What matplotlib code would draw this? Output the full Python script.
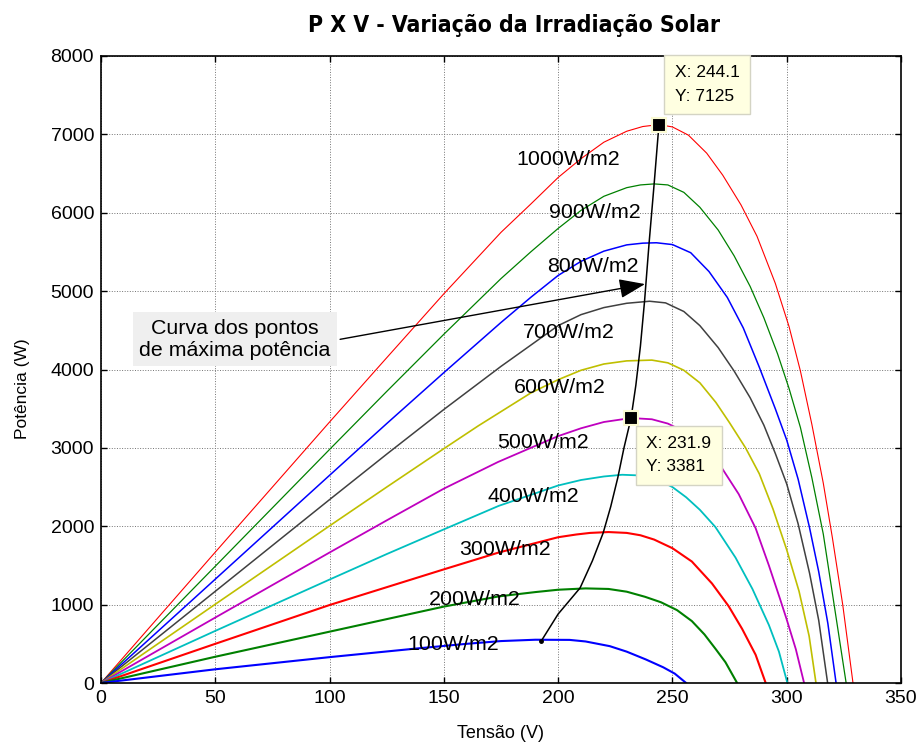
import matplotlib
matplotlib.use('Agg')
import matplotlib.pyplot as plt

plt.rcParams['font.family'] = ['Liberation Sans', 'DejaVu Sans']

# P x V curves of the array for each irradiance level (V in volts, P in watts)
irradiance = [1000, 900, 800, 700, 600, 500, 400, 300, 200, 100]

v1000 = [0, 50, 100, 125, 150, 175, 188, 200, 210, 220, 230, 237, 244.1, 250, 257, 265, 272, 280,
         287, 295, 301, 306, 311, 316, 320, 324.5, 329]
p1000 = [0, 1670, 3330, 4150, 4966, 5750, 6110, 6450, 6690, 6900, 7040, 7100, 7125, 7095, 6990,
         6760, 6480, 6100, 5700, 5100, 4550, 3980, 3300, 2550, 1850, 1000, 0]

v900 = [0, 50, 100, 125, 150, 175, 188, 200, 210, 220, 230, 236, 242, 248, 255, 262, 270, 277,
        284, 290, 296, 301, 306, 311, 316, 321, 326]
p900 = [0, 1490, 2980, 3720, 4450, 5160, 5500, 5800, 6030, 6210, 6320, 6355, 6368, 6355, 6260,
        6070, 5780, 5450, 5060, 4660, 4200, 3760, 3260, 2620, 1900, 950, 0]

v800 = [0, 50, 100, 125, 150, 175, 188, 200, 210, 220, 230, 237, 243, 250, 258, 266, 274, 281,
        288, 295, 300, 305, 310, 314, 318, 321.6]
p800 = [0, 1325, 2650, 3310, 3960, 4600, 4920, 5200, 5380, 5510, 5590, 5612, 5617, 5594, 5490,
        5250, 4920, 4530, 4030, 3500, 3100, 2600, 1980, 1420, 760, 0]

v700 = [0, 50, 100, 125, 150, 175, 188, 200, 210, 220, 230, 240, 247, 255, 262, 270, 277, 284,
        290, 295, 300, 305, 310, 314, 317.9]
p700 = [0, 1170, 2340, 2920, 3490, 4040, 4310, 4560, 4700, 4790, 4845, 4871, 4850, 4740, 4560,
        4280, 3980, 3640, 3290, 2930, 2540, 2030, 1400, 800, 0]

v600 = [0, 50, 100, 125, 150, 165, 188, 200, 210, 220, 230, 241, 248, 255, 262, 269, 275, 282,
        288, 294, 300, 305.4, 309.8, 312.8]
p600 = [0, 1005, 2005, 2500, 2990, 3280, 3700, 3870, 3990, 4070, 4110, 4120, 4085, 3990, 3830,
        3580, 3320, 3000, 2670, 2220, 1700, 1170, 600, 0]

v500 = [0, 50, 100, 125, 150, 173.7, 188, 200, 210, 220, 231.9, 241, 248, 255, 262, 271.7, 279,
        286.4, 292.2, 297, 300, 304, 307.6]
p500 = [0, 835, 1665, 2075, 2480, 2820, 3000, 3150, 3250, 3330, 3381, 3365, 3310, 3210, 3040,
        2740, 2410, 1975, 1500, 1080, 810, 430, 0]

v400 = [0, 50, 100, 125, 150, 174, 188, 200, 210, 220, 228, 236, 244, 250, 256, 262, 268.8,
        277.6, 285, 292.2, 296.6, 300.3]
p400 = [0, 665, 1320, 1645, 1960, 2260, 2400, 2520, 2590, 2635, 2657, 2648, 2590, 2500, 2370,
        2210, 1990, 1600, 1200, 740, 400, 0]

v300 = [0, 50, 100, 150, 174, 188, 200, 208, 214, 222, 230, 236, 242, 250, 258.5, 267.3, 274.6,
        280.5, 286.4, 290.8]
p300 = [0, 500, 995, 1450, 1665, 1770, 1860, 1895, 1915, 1926, 1915, 1885, 1830, 1720, 1550,
        1270, 980, 690, 360, 0]

v200 = [0, 50, 100, 150, 174, 190, 200, 212, 222, 230, 238, 245, 252, 258.5, 264, 269, 273.2, 278.3]
p200 = [0, 335, 655, 975, 1105, 1160, 1190, 1207, 1200, 1165, 1100, 1030, 930, 790, 620, 430, 265, 0]

v100 = [0, 50, 100, 138, 160, 175, 190, 205, 212, 222.6, 230, 238.4, 246, 251, 256]
p100 = [0, 175, 330, 440, 500, 535, 552, 550, 530, 470, 400, 300, 200, 120, 0]

# locus of maximum power points
v_mpp = [192.7, 200, 209.6, 215, 219.7, 223, 226.1, 228.8, 231.9, 234, 236, 237.8, 239.8, 242, 244.1]
p_mpp = [540, 880, 1213, 1560, 1915, 2250, 2620, 3000, 3381, 3800, 4300, 4871, 5617, 6368, 7125]

# data tips
tip_v = [244.1, 231.9]
tip_p = [7125, 3381]

curves = [(v1000, p1000), (v900, p900), (v800, p800), (v700, p700), (v600, p600),
          (v500, p500), (v400, p400), (v300, p300), (v200, p200), (v100, p100)]
colors = ['#ff0000', '#008000', '#0000ff', '#404040', '#bfbf00',
          '#bf00bf', '#00bfbf', '#ff0000', '#008000', '#0000ff']
widths = [0.8, 0.9, 1.1, 1.1, 1.2, 1.3, 1.3, 1.5, 1.5, 1.5]
# where each W/m2 label sits (centre x, baseline y)
label_pos = [(204.3, 6609), (216.1, 5933), (215.2, 5244), (204.7, 4402), (200.8, 3700),
             (193.4, 2998), (189.0, 2309), (176.7, 1633), (163.6, 995), (154.0, 421)]

fig = plt.figure(figsize=(9.2, 7.42), dpi=100)
ax = fig.add_axes([101 / 920, 59 / 742, 800 / 920, 627 / 742])

for (v, p), c, lw in zip(curves, colors, widths):
    ax.plot(v, p, color=c, lw=lw)

for g, (x, y) in zip(irradiance, label_pos):
    ax.text(x, y, f'{g}W/m2', ha='center', va='baseline', fontsize=15.4)

ax.plot(v_mpp, p_mpp, color='k', lw=1.1)
ax.plot(v_mpp[0], p_mpp[0], 'o', color='k', ms=2.5)

# data tip markers and boxes
ax.plot(tip_v, tip_p, 's', ms=10, mfc='k', mec='#fafad2', mew=1.5, zorder=5)
tip_box = dict(boxstyle='square,pad=0.6', facecolor='#ffffe1', edgecolor='#d4d4c4', lw=1)
ax.annotate(f'X: {tip_v[0]}\nY: {tip_p[0]}', xy=(tip_v[0], tip_p[0]),
            xytext=(11.5, 15), textcoords='offset points', ha='left', va='bottom',
            fontsize=12.5, linespacing=1.7, bbox=tip_box, annotation_clip=False, zorder=6)
ax.annotate(f'X: {tip_v[1]}\nY: {tip_p[1]}', xy=(tip_v[1], tip_p[1]),
            xytext=(11, -13), textcoords='offset points', ha='left', va='top',
            fontsize=12.5, linespacing=1.7, bbox=tip_box, zorder=6)

# note pointing at the maximum power curve
ax.text(58.6, 4388, 'Curva dos pontos\nde máxima potência', ha='center', va='center',
        fontsize=15.4, bbox=dict(boxstyle='square,pad=0.3', facecolor='#efefef', edgecolor='none'))
ax.annotate('', xy=(238, 5090), xytext=(104.6, 4385),
            arrowprops=dict(arrowstyle='-|>,head_length=0.8,head_width=0.3', color='k',
                            lw=1, mutation_scale=20, shrinkA=0, shrinkB=0))

ax.set_xlim(0, 350)
ax.set_ylim(0, 8000)
ax.set_xticks(range(0, 351, 50))
ax.set_yticks(range(0, 8001, 1000))
ax.grid(True, linestyle=':', color='0.45', lw=0.7)
ax.tick_params(direction='in', top=True, right=True, length=4, width=1,
               labelsize=14, pad=5)
for s in ax.spines.values():
    s.set_linewidth(1.2)

ax.set_xlabel('Tensão (V)', fontsize=13, labelpad=13)
ax.set_ylabel('Potência (W)', fontsize=12.5)
ax.yaxis.set_label_coords(-0.089, 0.47)

fig.text(514 / 920, 1 - 32 / 742, 'P X V - Variação da Irradiação Solar',
         ha='center', va='baseline', fontsize=16.5, fontweight='bold', fontstretch='condensed',
         family=['Liberation Sans Narrow', 'DejaVu Sans'])

fig.savefig('out.png', dpi=100)
